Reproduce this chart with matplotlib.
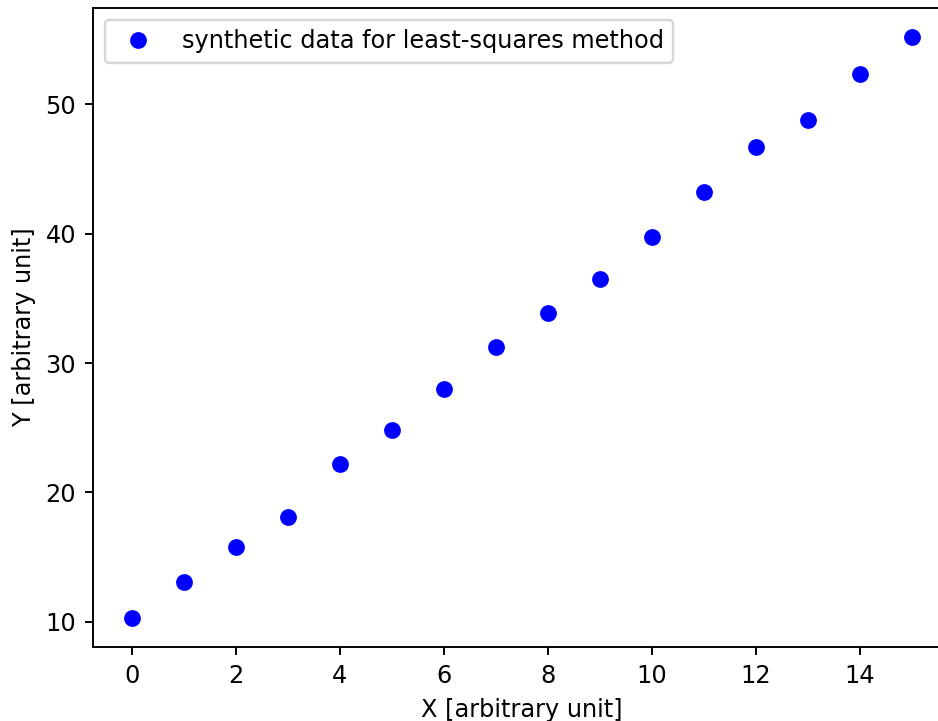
import numpy as np
from matplotlib import pyplot as plt

# synthetic measurements for a straight-line fit
x = np.arange(0, 16)
y = [10.3, 13.1, 15.8, 18.1, 22.2, 24.8, 28.0, 31.2,
     33.9, 36.5, 39.7, 43.2, 46.7, 48.8, 52.3, 55.2]

dpi = 172.5
fig = plt.figure(figsize=(938/dpi, 721/dpi), dpi=dpi)
# axes runs slightly past the right edge of the canvas
ax = fig.add_axes([0.0991, 0.1024, 0.9147, 0.887])
ax.plot(x, y, 'bo', label="synthetic data for least-squares method")
ax.set_xlabel("X [arbitrary unit]")
ax.set_ylabel("Y [arbitrary unit]")
ax.set_xticks(np.arange(0, 16, 2))
ax.set_yticks([10, 20, 30, 40, 50])
ax.legend(loc="upper left")
fig.savefig("out.png", dpi=dpi)
